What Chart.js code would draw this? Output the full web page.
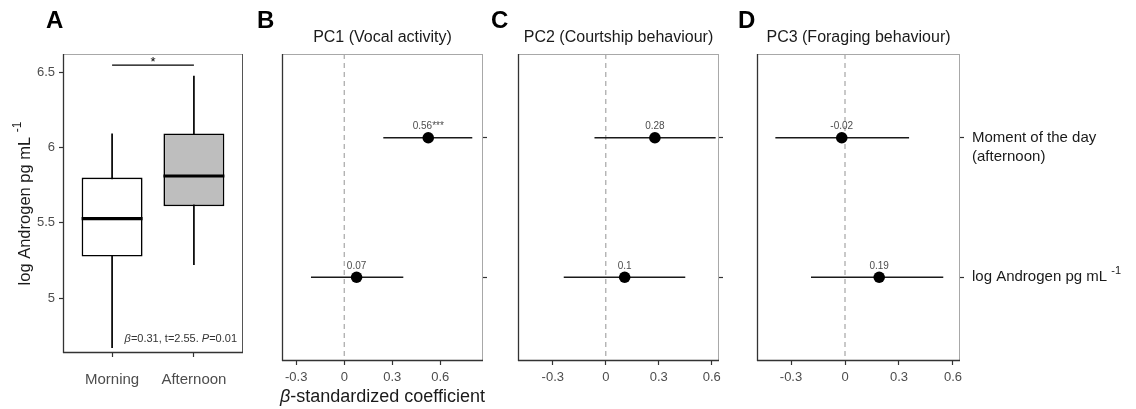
<!DOCTYPE html>
<html>
<head>
<meta charset="utf-8">
<script src="https://cdn.jsdelivr.net/npm/chart.js@4.4.1/dist/chart.umd.min.js"></script>
<style>
html,body{margin:0;padding:0;background:#fff;}
#wrap{position:relative;width:1136px;height:409px;overflow:hidden;background:#fff;}
canvas{position:absolute;top:0;}
</style>
</head>
<body>
<div id="wrap">
<canvas id="cA" width="250" height="409" style="left:0px"></canvas>
<canvas id="cB" width="240" height="409" style="left:250px"></canvas>
<canvas id="cC" width="236" height="409" style="left:490px"></canvas>
<canvas id="cD" width="410" height="409" style="left:726px"></canvas>
</div>
<script>
// ---------- DATA ----------
// Panel A: boxplot of log androgen by moment of the day
const groups = ["Morning", "Afternoon"];
const whiskerLow = [4.668, 5.22];
const q1 = [5.275, 5.61];
const median = [5.527, 5.81];
const q3 = [5.80, 6.093];
const whiskerHigh = [6.093, 6.475];
const sigLevel = 6.546;
const sigText = "*";
const yTicksA = [5, 5.5, 6, 6.5];
const yTickLabelsA = ["5", "5.5", "6", "6.5"];
const statText = [["β", true], ["=0.31, t=2.55. ", false], ["P", true], ["=0.01", false]];

// Panels B-D: standardized coefficients
const termLines = [["Moment of the day", "(afternoon)"], ["log Androgen pg mL "]];
const termSup = ["", "-1"];
const panelTitles = ["PC1 (Vocal activity)", "PC2 (Courtship behaviour)", "PC3 (Foraging behaviour)"];
const panelLetters = ["A", "B", "C", "D"];
const pc1Est = [0.525, 0.077];
const pc1Lo = [0.244, -0.208];
const pc1Hi = [0.800, 0.369];
const pc1Lab = ["0.56***", "0.07"];
const pc2Est = [0.278, 0.107];
const pc2Lo = [-0.064, -0.238];
const pc2Hi = [0.622, 0.450];
const pc2Lab = ["0.28", "0.1"];
const pc3Est = [-0.018, 0.190];
const pc3Lo = [-0.387, -0.189];
const pc3Hi = [0.356, 0.546];
const pc3Lab = ["-0.02", "0.19"];
const xTicksCoef = [-0.3, 0, 0.3, 0.6];
const xTickLabelsCoef = ["-0.3", "0", "0.3", "0.6"];
const xTitleCoef = [["β", true], ["-standardized coefficient", false]];

// ---------- STYLE / HELPERS ----------
const FF = "'Liberation Sans', Arial, Helvetica, sans-serif";
Chart.defaults.font.family = FF;
Chart.defaults.color = '#4d4d4d';

function setTicks(values) { return s => { s.ticks = values.map(v => ({ value: v })); }; }
function seg(c, x1, y1, x2, y2) { c.beginPath(); c.moveTo(x1, y1); c.lineTo(x2, y2); c.stroke(); }
function mixedWidth(c, parts, size) {
  let w = 0;
  parts.forEach(p => { c.font = (p[1] ? 'italic ' : '') + size + 'px ' + FF; w += c.measureText(p[0]).width; });
  return w;
}
function drawMixed(c, parts, x, y, size, color) {
  let cx = x;
  c.fillStyle = color; c.textAlign = 'left';
  parts.forEach(p => { c.font = (p[1] ? 'italic ' : '') + size + 'px ' + FF; c.fillText(p[0], cx, y); cx += c.measureText(p[0]).width; });
}

function framePlugin(rightColor) {
  return {
    id: 'frame',
    afterDraw(chart) {
      const c = chart.ctx, a = chart.chartArea;
      c.save();
      c.lineWidth = 1; c.strokeStyle = '#a8a8a8';
      seg(c, a.left, a.top + 0.5, a.right, a.top + 0.5);
      c.strokeStyle = rightColor;
      seg(c, a.right - 0.5, a.top, a.right - 0.5, a.bottom);
      c.lineWidth = 1.3; c.strokeStyle = '#333';
      seg(c, a.left + 0.5, a.top, a.left + 0.5, a.bottom);
      seg(c, a.left, a.bottom - 0.5, a.right, a.bottom - 0.5);
      c.restore();
    }
  };
}
function letterPlugin(letter, x) {
  return {
    id: 'letter',
    afterDraw(chart) {
      const c = chart.ctx;
      c.save();
      c.font = 'bold 24px ' + FF; c.fillStyle = '#000'; c.textAlign = 'left'; c.textBaseline = 'alphabetic';
      c.fillText(letter, x, 28);
      c.restore();
    }
  };
}

const baseOpts = {
  responsive: false, animation: false, events: [],
  plugins: { legend: { display: false }, tooltip: { enabled: false }, title: { display: false } }
};

// ---------- PANEL A ----------
const boxFill = ['#ffffff', '#bebebe'];
const panelAExtras = {
  id: 'panelA',
  afterDatasetsDraw(chart) {
    // median lines across each box, using the box element geometry
    const c = chart.ctx, ys = chart.scales.y;
    const boxes = chart.getDatasetMeta(0).data;
    c.save();
    c.strokeStyle = '#000'; c.lineWidth = 3.2;
    boxes.forEach((b, i) => {
      const y = ys.getPixelForValue(median[i]);
      seg(c, b.x - b.width / 2, y, b.x + b.width / 2, y);
    });
    c.restore();
  },
  afterDraw(chart) {
    const c = chart.ctx, a = chart.chartArea, xs = chart.scales.x, ys = chart.scales.y;
    c.save();
    // significance star
    c.font = '13px ' + FF; c.fillStyle = '#000'; c.textAlign = 'center'; c.textBaseline = 'alphabetic';
    c.fillText(sigText, (xs.getPixelForValue(1) + xs.getPixelForValue(2)) / 2, ys.getPixelForValue(sigLevel) + 1);
    // stats text
    c.textBaseline = 'middle';
    const w = mixedWidth(c, statText, 11);
    drawMixed(c, statText, a.right - 6 - w, a.bottom - 14, 11, '#333');
    // y axis title with superscript
    c.translate(25, (a.top + a.bottom) / 2);
    c.rotate(-Math.PI / 2);
    const main = 'log Androgen pg mL ';
    c.font = '16.5px ' + FF;
    const wm = c.measureText(main).width;
    c.font = '12px ' + FF;
    const ws = c.measureText('-1').width;
    const x0 = -(wm + ws) / 2;
    c.fillStyle = '#1a1a1a'; c.textAlign = 'left'; c.textBaseline = 'middle';
    c.font = '16.5px ' + FF; c.fillText(main, x0, 0);
    c.font = '12px ' + FF; c.fillText('-1', x0 + wm, -7);
    c.restore();
  }
};

new Chart(document.getElementById('cA'), {
  type: 'bar',
  data: {
    datasets: [
      {
        type: 'bar', data: groups.map((g, i) => ({ x: i + 1, y: [q1[i], q3[i]] })),
        borderColor: '#000', borderWidth: 1.7, borderSkipped: false, grouped: false,
        barPercentage: 0.745, categoryPercentage: 1, backgroundColor: boxFill, order: 1
      },
      ...groups.map((g, i) => ({
        type: 'line', data: [{ x: i + 1, y: whiskerLow[i] }, { x: i + 1, y: whiskerHigh[i] }],
        borderColor: '#000', borderWidth: 1.7, pointRadius: 0, order: 2
      })),
      {
        type: 'line', data: groups.map((g, i) => ({ x: i + 1, y: sigLevel })),
        borderColor: '#000', borderWidth: 1.3, pointRadius: 0, order: 0
      }
    ]
  },
  options: Object.assign({}, baseOpts, {
    layout: { padding: { left: 0, top: 54, right: 7, bottom: 0 } },
    scales: {
      x: {
        type: 'linear', min: 0.4, max: 2.6, bounds: 'data', offset: false,
        afterBuildTicks: setTicks(groups.map((g, i) => i + 1)),
        afterFit: s => { s.height = 56; },
        ticks: { callback: (v, i) => groups[i], font: { size: 15 }, color: '#4d4d4d', padding: 14, maxRotation: 0, autoSkip: false },
        grid: { drawOnChartArea: false, offset: false, tickLength: 4, tickColor: '#333', tickWidth: 1.2 },
        border: { display: false }
      },
      y: {
        type: 'linear', min: 4.635, max: 6.62, bounds: 'data', beginAtZero: false,
        afterBuildTicks: setTicks(yTicksA),
        afterFit: s => { s.width = 63; },
        ticks: { callback: (v, i) => yTickLabelsA[i], font: { size: 13 }, color: '#4d4d4d', padding: 4, autoSkip: false },
        grid: { drawOnChartArea: false, tickLength: 4, tickColor: '#333', tickWidth: 1.2 },
        border: { display: false }
      }
    }
  }),
  plugins: [framePlugin('#555'), panelAExtras, letterPlugin(panelLetters[0], 46)]
});

// ---------- PANELS B-D ----------
const zeroLine = {
  id: 'zeroLine',
  beforeDatasetsDraw(chart) {
    const c = chart.ctx, a = chart.chartArea, x = chart.scales.x.getPixelForValue(0);
    c.save();
    c.strokeStyle = '#a6a6a6'; c.lineWidth = 1.2; c.setLineDash([5, 4]);
    seg(c, x, a.top, x, a.bottom);
    c.restore();
  }
};
function titlePlugin(title, labels, est, xTitle, rowLabels) {
  return {
    id: 'titles',
    afterDraw(chart) {
      const c = chart.ctx, a = chart.chartArea, xs = chart.scales.x, ys = chart.scales.y;
      c.save();
      c.font = '16px ' + FF; c.fillStyle = '#1a1a1a'; c.textAlign = 'center'; c.textBaseline = 'alphabetic';
      c.fillText(title, (a.left + a.right) / 2, 42);
      // value labels
      c.font = '10px ' + FF; c.fillStyle = '#4d4d4d'; c.textBaseline = 'middle';
      est.forEach((e, i) => c.fillText(labels[i], xs.getPixelForValue(e), ys.getPixelForValue(i + 1) - 11.5));
      if (xTitle) {
        c.textBaseline = 'alphabetic';
        const w = mixedWidth(c, xTitleCoef, 18);
        drawMixed(c, xTitleCoef, (a.left + a.right) / 2 - w / 2, 402, 18, '#1a1a1a');
      }
      if (rowLabels) {
        c.fillStyle = '#1a1a1a'; c.textAlign = 'left'; c.textBaseline = 'middle';
        termLines.forEach((lines, i) => {
          const y0 = ys.getPixelForValue(i + 1);
          const x0 = a.right + 12;
          c.font = '15px ' + FF;
          lines.forEach((ln, k) => c.fillText(ln, x0, y0 + k * 19.5));
          if (termSup[i]) {
            const w = c.measureText(lines[lines.length - 1]).width;
            c.font = '11px ' + FF;
            c.fillText(termSup[i], x0 + w, y0 - 6);
          }
        });
      }
      c.restore();
    }
  };
}

function forestChart(id, est, lo, hi, lab, xr, padLeft, yWidth, title, letter, letterX, xTitle, rowLabels) {
  return new Chart(document.getElementById(id), {
    type: 'scatter',
    data: {
      datasets: [
        {
          data: est.map((e, i) => ({ x: e, y: i + 1 })), pointRadius: 5.8, pointBackgroundColor: '#000',
          pointBorderColor: '#000', pointBorderWidth: 0, order: 0
        },
        ...est.map((e, i) => ({
          type: 'line', data: [{ x: lo[i], y: i + 1 }, { x: hi[i], y: i + 1 }],
          borderColor: '#1a1a1a', borderWidth: 1.6, pointRadius: 0, order: 1
        }))
      ]
    },
    options: Object.assign({}, baseOpts, {
      layout: { padding: { left: padLeft, top: 54, right: 0, bottom: 0 } },
      scales: {
        x: {
          type: 'linear', min: xr[0], max: xr[1], bounds: 'data',
          afterBuildTicks: setTicks(xTicksCoef),
          afterFit: s => { s.height = 48; },
          ticks: { callback: (v, i) => xTickLabelsCoef[i], font: { size: 13 }, color: '#4d4d4d', padding: 5, maxRotation: 0, autoSkip: false },
          grid: { drawOnChartArea: false, tickLength: 4, tickColor: '#333', tickWidth: 1.2 },
          border: { display: false }
        },
        y: {
          type: 'linear', position: 'right', reverse: true, min: 0.4, max: 2.6, bounds: 'data',
          afterBuildTicks: setTicks(termLines.map((t, i) => i + 1)),
          afterFit: s => { s.width = yWidth; },
          ticks: { display: false },
          grid: { drawOnChartArea: false, tickLength: 4, tickColor: '#333', tickWidth: 1.2 },
          border: { display: false }
        }
      }
    }),
    plugins: [zeroLine, framePlugin('#a8a8a8'), titlePlugin(title, lab, est, xTitle, rowLabels), letterPlugin(letter, letterX)]
  });
}

forestChart('cB', pc1Est, pc1Lo, pc1Hi, pc1Lab, [-0.389, 0.867], 32, 7, panelTitles[0], panelLetters[1], 7, true, false);
forestChart('cC', pc2Est, pc2Lo, pc2Hi, pc2Lab, [-0.497, 0.641], 28, 5, panelTitles[1], panelLetters[2], 1, false, false);
forestChart('cD', pc3Est, pc3Lo, pc3Hi, pc3Lab, [-0.489, 0.639], 31, 176, panelTitles[2], panelLetters[3], 12, false, true);
</script>
</body>
</html>
